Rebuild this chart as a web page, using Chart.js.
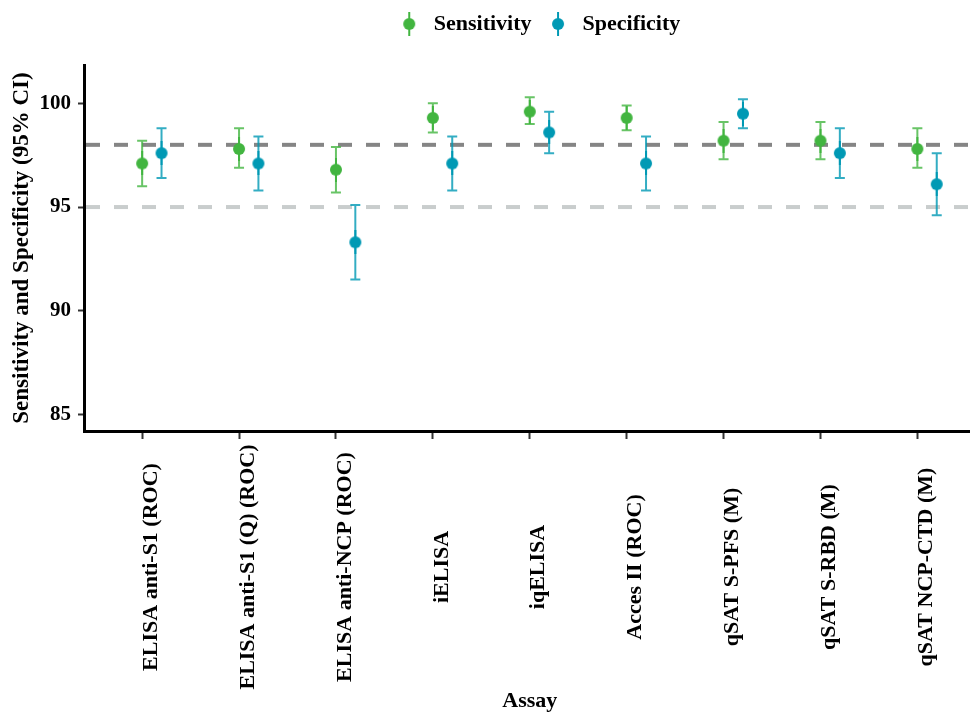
<!DOCTYPE html>
<html>
<head>
<meta charset="utf-8">
<script src="https://cdn.jsdelivr.net/npm/chart.js@4.4.1/dist/chart.umd.min.js"></script>
<style>
  html, body { margin: 0; padding: 0; overflow: hidden; background: #fff; }
  #wrap { width: 1076px; height: 714px; }
</style>
</head>
<body>
<div id="wrap"><canvas id="assay-chart" width="1076" height="714"></canvas></div>
<script>
const assays = [
    "ELISA anti-S1 (ROC)", "ELISA anti-S1 (Q) (ROC)", "ELISA anti-NCP (ROC)",
    "iELISA", "iqELISA", "Acces II (ROC)",
    "qSAT S-PFS (M)", "qSAT S-RBD (M)", "qSAT NCP-CTD (M)"
];
const sensitivity = [97.1, 97.8, 96.8, 99.3, 99.6, 99.3, 98.2, 98.2, 97.8];
const sensLow     = [96.0, 96.9, 95.7, 98.6, 99.0, 98.7, 97.3, 97.3, 96.9];
const sensHigh    = [98.2, 98.8, 97.9, 100.0, 100.3, 99.9, 99.1, 99.1, 98.8];
const specificity = [97.6, 97.1, 93.3, 97.1, 98.6, 97.1, 99.5, 97.6, 96.1];
const specLow     = [96.4, 95.8, 91.5, 95.8, 97.6, 95.8, 98.8, 96.4, 94.6];
const specHigh    = [98.8, 98.4, 95.1, 98.4, 99.6, 98.4, 100.2, 98.8, 97.6];
const yTicks = [85, 90, 95, 100];
const refLines = [98, 95];

const GREEN = 'rgba(66, 181, 64, 0.9)';
const GREEN_BAR = 'rgba(66, 181, 64, 0.8)';
const BLUE = 'rgba(0, 153, 180, 0.9)';
const BLUE_BAR = 'rgba(0, 153, 180, 0.8)';
const FONT = '"Liberation Serif", "Times New Roman", serif';
const DODGE = 0.2;

function legendSymbol(color) {
    const c = document.createElement('canvas');
    c.width = 14; c.height = 24;
    const g = c.getContext('2d');
    g.strokeStyle = color; g.lineWidth = 2;
    g.beginPath(); g.moveTo(7, 0); g.lineTo(7, 24); g.stroke();
    g.fillStyle = color;
    g.beginPath(); g.arc(7, 12, 6, 0, Math.PI * 2); g.fill();
    return c;
}

// extra room under the legend, like the gap above the panel
const legendGapPlugin = {
    id: 'legendGap',
    beforeInit(chart) {
        const fit = chart.legend.fit;
        chart.legend.fit = function () {
            fit.call(this);
            this.height += 20;
        };
    }
};

const refLinePlugin = {
    id: 'refLines',
    beforeDatasetsDraw(chart) {
        const {ctx, chartArea, scales: {y}} = chart;
        const colors = ['rgba(120,120,120,0.9)', 'rgba(195,200,200,0.9)'];
        ctx.save();
        ctx.setLineDash([14, 14]);
        refLines.forEach((v, k) => {
            const py = y.getPixelForValue(v);
            ctx.strokeStyle = colors[k];
            ctx.lineWidth = 4;
            ctx.beginPath();
            ctx.moveTo(chartArea.left + 2, py);
            ctx.lineTo(chartArea.right, py);
            ctx.stroke();
        });
        ctx.restore();
    }
};

const errorBarPlugin = {
    id: 'errorBars',
    beforeDatasetsDraw(chart) {
        const {ctx, scales: {x, y}} = chart;
        const groups = [
            {lo: sensLow, hi: sensHigh, off: 0, color: GREEN_BAR},
            {lo: specLow, hi: specHigh, off: DODGE, color: BLUE_BAR}
        ];
        ctx.save();
        ctx.lineWidth = 2;
        groups.forEach(g => {
            ctx.strokeStyle = g.color;
            g.lo.forEach((lo, i) => {
                const px = x.getPixelForValue(i + g.off);
                const y1 = y.getPixelForValue(lo);
                const y2 = y.getPixelForValue(g.hi[i]);
                ctx.beginPath();
                ctx.moveTo(px, y1); ctx.lineTo(px, y2);
                ctx.moveTo(px - 5, y1); ctx.lineTo(px + 5, y1);
                ctx.moveTo(px - 5, y2); ctx.lineTo(px + 5, y2);
                ctx.stroke();
            });
        });
        ctx.restore();
    }
};

// rotated x labels, centred on their own length like the original,
// plus the axis title centred under the nine assays
const assayLabelPlugin = {
    id: 'assayLabels',
    afterDraw(chart) {
        const {ctx, scales: {x}} = chart;
        ctx.save();
        ctx.font = 'bold 22px ' + FONT;
        ctx.fillStyle = '#000';
        ctx.textAlign = 'center';
        ctx.textBaseline = 'middle';
        assays.forEach((label, i) => {
            ctx.save();
            ctx.translate(x.getPixelForValue(i) + 9, 567);
            ctx.rotate(-Math.PI / 2);
            ctx.fillText(label, 0, 0);
            ctx.restore();
        });
        const mid = (x.getPixelForValue(-0.6) + x.getPixelForValue(assays.length - 0.4)) / 2;
        ctx.fillText('Assay', mid, 701);
        ctx.restore();
    }
};

function buildChart() {
    const ctx = document.getElementById('assay-chart').getContext('2d');
    return new Chart(ctx, {
        type: 'scatter',
        data: {
            datasets: [{
                label: 'Sensitivity',
                data: sensitivity.map((v, i) => ({x: i, y: v})),
                backgroundColor: GREEN,
                borderWidth: 0,
                pointRadius: 6.5,
                pointStyle: legendSymbol('#42B540')
            }, {
                label: 'Specificity',
                data: specificity.map((v, i) => ({x: i + DODGE, y: v})),
                backgroundColor: BLUE,
                borderWidth: 0,
                pointRadius: 6.5,
                pointStyle: legendSymbol('#0099B4')
            }]
        },
        options: {
            responsive: false,
            animation: false,
            layout: {padding: 0},
            elements: {point: {pointStyle: 'circle'}},
            plugins: {
                tooltip: {enabled: false},
                legend: {
                    position: 'top',
                    labels: {
                        usePointStyle: true,
                        pointStyleWidth: 27,
                        padding: 13,
                        color: '#000',
                        font: {family: FONT, size: 22, weight: 'bold'}
                    }
                }
            },
            scales: {
                x: {
                    type: 'linear',
                    min: -0.6,
                    max: 9.57,
                    afterBuildTicks: s => { s.ticks = assays.map((a, i) => ({value: i})); },
                    afterFit: s => { s.height = 283; },
                    ticks: {display: false},
                    grid: {drawOnChartArea: false, drawTicks: true, tickLength: 8, tickColor: '#333', tickWidth: 2},
                    border: {color: '#000', width: 3}
                },
                y: {
                    min: 84.2,
                    max: 101.85,
                    afterBuildTicks: s => { s.ticks = yTicks.map(v => ({value: v})); },
                    afterFit: s => { s.width = 84; },
                    ticks: {
                        color: '#000', padding: 7,
                        font: {family: FONT, size: 21, weight: 'bold'}
                    },
                    grid: {drawOnChartArea: false, drawTicks: true, tickLength: 6, tickColor: '#333', tickWidth: 2},
                    border: {color: '#000', width: 3},
                    title: {
                        display: true, text: 'Sensitivity and Specificity (95% CI)', color: '#000',
                        font: {family: FONT, size: 23, weight: 'bold'},
                        padding: {top: 8, bottom: 0}
                    }
                }
            }
        },
        plugins: [legendGapPlugin, refLinePlugin, errorBarPlugin, assayLabelPlugin]
    });
}

document.addEventListener('DOMContentLoaded', buildChart);
</script>
</body>
</html>
